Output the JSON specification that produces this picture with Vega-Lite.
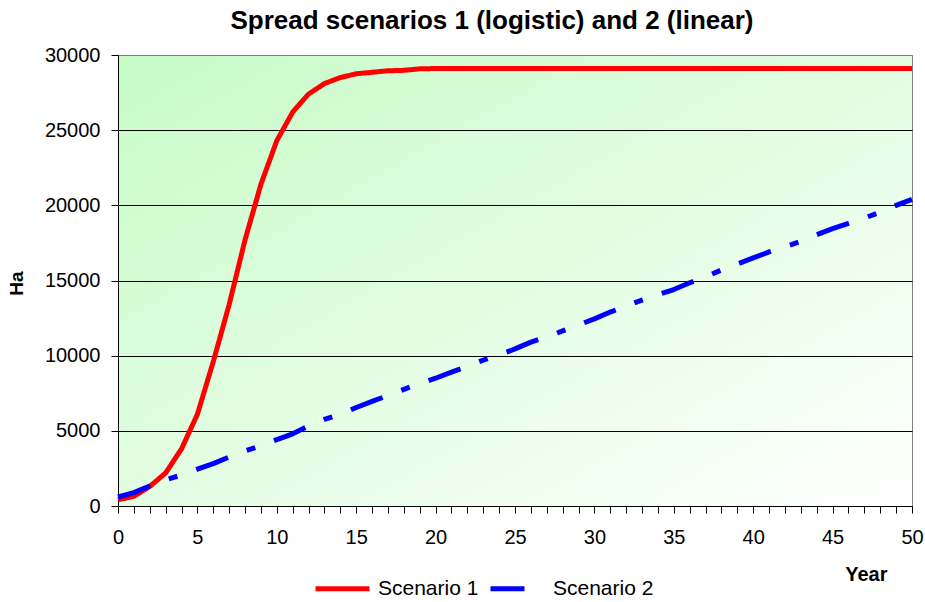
{
  "$schema": "https://vega.github.io/schema/vega-lite/v6.json",
  "width": 794,
  "height": 451,
  "autosize": {"type": "none"},
  "padding": {"left": 118, "top": 55, "right": 13, "bottom": 96},
  "background": "white",
  "title": {
    "text": "Spread scenarios 1 (logistic) and 2 (linear)",
    "font": "Liberation Sans",
    "fontSize": 26,
    "fontWeight": "bold",
    "color": "black",
    "anchor": "middle",
    "dx": -23,
    "offset": 11
  },
  "config": {
    "font": "Liberation Sans",
    "view": {
      "stroke": "#808080",
      "strokeWidth": 1,
      "fill": {
        "gradient": "linear",
        "x1": 0, "y1": 0, "x2": 1, "y2": 1,
        "stops": [
          {"offset": 0, "color": "#c6fbc6"},
          {"offset": 1, "color": "#ffffff"}
        ]
      }
    },
    "axis": {
      "labelFont": "Liberation Sans",
      "labelFontSize": 20,
      "labelColor": "black",
      "titleFont": "Liberation Sans",
      "titleFontSize": 19,
      "titleFontWeight": "bold",
      "titleColor": "black",
      "domainColor": "black",
      "tickColor": "black",
      "tickSize": 7,
      "domainWidth": 1,
      "tickWidth": 1
    }
  },
  "data": {
    "values": [
      {"year": 0, "scenario": "Scenario 1", "ha": 420},
      {"year": 1, "scenario": "Scenario 1", "ha": 640},
      {"year": 2, "scenario": "Scenario 1", "ha": 1300},
      {"year": 3, "scenario": "Scenario 1", "ha": 2200},
      {"year": 4, "scenario": "Scenario 1", "ha": 3800},
      {"year": 5, "scenario": "Scenario 1", "ha": 6100},
      {"year": 6, "scenario": "Scenario 1", "ha": 9600},
      {"year": 7, "scenario": "Scenario 1", "ha": 13400},
      {"year": 8, "scenario": "Scenario 1", "ha": 17700},
      {"year": 9, "scenario": "Scenario 1", "ha": 21400},
      {"year": 10, "scenario": "Scenario 1", "ha": 24300},
      {"year": 11, "scenario": "Scenario 1", "ha": 26200},
      {"year": 12, "scenario": "Scenario 1", "ha": 27400},
      {"year": 13, "scenario": "Scenario 1", "ha": 28100},
      {"year": 14, "scenario": "Scenario 1", "ha": 28500},
      {"year": 15, "scenario": "Scenario 1", "ha": 28750},
      {"year": 16, "scenario": "Scenario 1", "ha": 28850},
      {"year": 17, "scenario": "Scenario 1", "ha": 28950},
      {"year": 18, "scenario": "Scenario 1", "ha": 28980},
      {"year": 19, "scenario": "Scenario 1", "ha": 29080},
      {"year": 20, "scenario": "Scenario 1", "ha": 29100},
      {"year": 21, "scenario": "Scenario 1", "ha": 29100},
      {"year": 22, "scenario": "Scenario 1", "ha": 29100},
      {"year": 23, "scenario": "Scenario 1", "ha": 29100},
      {"year": 24, "scenario": "Scenario 1", "ha": 29100},
      {"year": 25, "scenario": "Scenario 1", "ha": 29100},
      {"year": 26, "scenario": "Scenario 1", "ha": 29100},
      {"year": 27, "scenario": "Scenario 1", "ha": 29100},
      {"year": 28, "scenario": "Scenario 1", "ha": 29100},
      {"year": 29, "scenario": "Scenario 1", "ha": 29100},
      {"year": 30, "scenario": "Scenario 1", "ha": 29100},
      {"year": 31, "scenario": "Scenario 1", "ha": 29100},
      {"year": 32, "scenario": "Scenario 1", "ha": 29100},
      {"year": 33, "scenario": "Scenario 1", "ha": 29100},
      {"year": 34, "scenario": "Scenario 1", "ha": 29100},
      {"year": 35, "scenario": "Scenario 1", "ha": 29100},
      {"year": 36, "scenario": "Scenario 1", "ha": 29100},
      {"year": 37, "scenario": "Scenario 1", "ha": 29100},
      {"year": 38, "scenario": "Scenario 1", "ha": 29100},
      {"year": 39, "scenario": "Scenario 1", "ha": 29100},
      {"year": 40, "scenario": "Scenario 1", "ha": 29100},
      {"year": 41, "scenario": "Scenario 1", "ha": 29100},
      {"year": 42, "scenario": "Scenario 1", "ha": 29100},
      {"year": 43, "scenario": "Scenario 1", "ha": 29100},
      {"year": 44, "scenario": "Scenario 1", "ha": 29100},
      {"year": 45, "scenario": "Scenario 1", "ha": 29100},
      {"year": 46, "scenario": "Scenario 1", "ha": 29100},
      {"year": 47, "scenario": "Scenario 1", "ha": 29100},
      {"year": 48, "scenario": "Scenario 1", "ha": 29100},
      {"year": 49, "scenario": "Scenario 1", "ha": 29100},
      {"year": 50, "scenario": "Scenario 1", "ha": 29100},
      {"year": 0, "scenario": "Scenario 2", "ha": 600},
      {"year": 1, "scenario": "Scenario 2", "ha": 890},
      {"year": 2, "scenario": "Scenario 2", "ha": 1330},
      {"year": 3, "scenario": "Scenario 2", "ha": 1750},
      {"year": 4, "scenario": "Scenario 2", "ha": 2060},
      {"year": 5, "scenario": "Scenario 2", "ha": 2450},
      {"year": 6, "scenario": "Scenario 2", "ha": 2820},
      {"year": 7, "scenario": "Scenario 2", "ha": 3260},
      {"year": 8, "scenario": "Scenario 2", "ha": 3660},
      {"year": 9, "scenario": "Scenario 2", "ha": 4020},
      {"year": 10, "scenario": "Scenario 2", "ha": 4420},
      {"year": 11, "scenario": "Scenario 2", "ha": 4800},
      {"year": 12, "scenario": "Scenario 2", "ha": 5320},
      {"year": 13, "scenario": "Scenario 2", "ha": 5760},
      {"year": 14, "scenario": "Scenario 2", "ha": 6100},
      {"year": 15, "scenario": "Scenario 2", "ha": 6550},
      {"year": 16, "scenario": "Scenario 2", "ha": 6960},
      {"year": 17, "scenario": "Scenario 2", "ha": 7350},
      {"year": 18, "scenario": "Scenario 2", "ha": 7760},
      {"year": 19, "scenario": "Scenario 2", "ha": 8150},
      {"year": 20, "scenario": "Scenario 2", "ha": 8500},
      {"year": 21, "scenario": "Scenario 2", "ha": 8900},
      {"year": 22, "scenario": "Scenario 2", "ha": 9300},
      {"year": 23, "scenario": "Scenario 2", "ha": 9700},
      {"year": 24, "scenario": "Scenario 2", "ha": 10050},
      {"year": 25, "scenario": "Scenario 2", "ha": 10450},
      {"year": 26, "scenario": "Scenario 2", "ha": 10900},
      {"year": 27, "scenario": "Scenario 2", "ha": 11250},
      {"year": 28, "scenario": "Scenario 2", "ha": 11650},
      {"year": 29, "scenario": "Scenario 2", "ha": 12050},
      {"year": 30, "scenario": "Scenario 2", "ha": 12450},
      {"year": 31, "scenario": "Scenario 2", "ha": 12900},
      {"year": 32, "scenario": "Scenario 2", "ha": 13300},
      {"year": 33, "scenario": "Scenario 2", "ha": 13700},
      {"year": 34, "scenario": "Scenario 2", "ha": 14050},
      {"year": 35, "scenario": "Scenario 2", "ha": 14400},
      {"year": 36, "scenario": "Scenario 2", "ha": 14850},
      {"year": 37, "scenario": "Scenario 2", "ha": 15250},
      {"year": 38, "scenario": "Scenario 2", "ha": 15700},
      {"year": 39, "scenario": "Scenario 2", "ha": 16100},
      {"year": 40, "scenario": "Scenario 2", "ha": 16500},
      {"year": 41, "scenario": "Scenario 2", "ha": 16900},
      {"year": 42, "scenario": "Scenario 2", "ha": 17250},
      {"year": 43, "scenario": "Scenario 2", "ha": 17600},
      {"year": 44, "scenario": "Scenario 2", "ha": 18050},
      {"year": 45, "scenario": "Scenario 2", "ha": 18450},
      {"year": 46, "scenario": "Scenario 2", "ha": 18800},
      {"year": 47, "scenario": "Scenario 2", "ha": 19150},
      {"year": 48, "scenario": "Scenario 2", "ha": 19550},
      {"year": 49, "scenario": "Scenario 2", "ha": 20000},
      {"year": 50, "scenario": "Scenario 2", "ha": 20400}
    ]
  },
  "mark": {"type": "line", "strokeWidth": 5, "strokeCap": "butt", "strokeJoin": "round"},
  "encoding": {
    "x": {
      "field": "year",
      "type": "quantitative",
      "scale": {"domain": [0, 50], "nice": false, "zero": false},
      "axis": {
        "title": "Year",
        "titleFontSize": 20,
        "values": [0,1,2,3,4,5,6,7,8,9,10,11,12,13,14,15,16,17,18,19,20,21,22,23,24,25,26,27,28,29,30,31,32,33,34,35,36,37,38,39,40,41,42,43,44,45,46,47,48,49,50],
        "labelExpr": "datum.value % 5 === 0 ? datum.label : ''",
        "labelPadding": 14,
        "labelOverlap": false,
        "labelFlush": false,
        "grid": false,
        "titleAnchor": "end",
        "titleAlign": "right",
        "titleX": 769,
        "titleY": 74,
        "titleBaseline": "alphabetic"
      }
    },
    "y": {
      "field": "ha",
      "type": "quantitative",
      "scale": {"domain": [0, 30000], "nice": false},
      "axis": {
        "title": "Ha",
        "values": [0, 5000, 10000, 15000, 20000, 25000, 30000],
        "format": "d",
        "labelPadding": 11,
        "grid": true,
        "gridColor": {"condition": {"test": "datum.value === 30000", "value": "#808080"}, "value": "black"},
        "gridWidth": 1,
        "titleX": -92,
        "titleY": 228,
        "titleAlign": "center",
        "titleBaseline": "bottom"
      }
    },
    "color": {
      "field": "scenario",
      "type": "nominal",
      "scale": {"domain": ["Scenario 1", "Scenario 2"], "range": ["#ff0000", "#0000ff"]},
      "legend": {
        "title": null,
        "orient": "none",
        "direction": "horizontal",
        "legendX": 195,
        "legendY": 504,
        "labelFont": "Liberation Sans",
        "labelFontSize": 21,
        "labelColor": "black",
        "labelOffset": 6,
        "columnPadding": 1,
        "symbolType": "stroke",
        "symbolSize": 2916,
        "symbolStrokeWidth": 5,
        "encode": {
          "symbols": {
            "update": {
              "strokeDash": {"signal": "datum.value === 'Scenario 2' ? [29, 16, 6, 16] : [1, 0]"}
            }
          }
        }
      }
    },
    "strokeDash": {
      "field": "scenario",
      "type": "nominal",
      "scale": {"domain": ["Scenario 1", "Scenario 2"], "range": [[1, 0], [34, 20, 9, 20]]},
      "legend": null
    }
  }
}
